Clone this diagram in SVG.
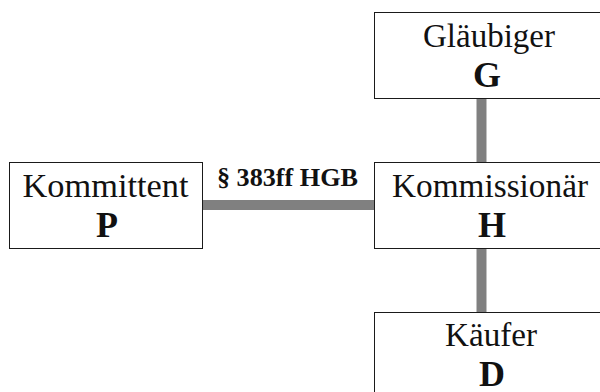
<svg xmlns="http://www.w3.org/2000/svg" width="600" height="392" viewBox="0 0 600 392">
<style>
.box{fill:#fff;stroke:#1a1a1a;stroke-width:1}
.name{font-family:'Liberation Serif','DejaVu Serif','Times New Roman',serif;font-size:33px;fill:#111;text-anchor:middle}
.sym{font-family:'Liberation Serif','DejaVu Serif','Times New Roman',serif;font-size:36px;font-weight:bold;fill:#111;text-anchor:middle}
.lbl{font-family:'Liberation Serif','DejaVu Serif','Times New Roman',serif;font-size:26px;font-weight:bold;fill:#111;text-anchor:middle}
.conn{stroke:#808080;stroke-width:10;fill:none}
</style>
<rect width="600" height="392" fill="#fff"/>
<g id="connectors">
<line class="conn" x1="202" y1="205" x2="374" y2="205"/>
<line class="conn" x1="481.5" y1="98" x2="481.5" y2="163"/>
<line class="conn" x1="481.5" y1="248" x2="481.5" y2="313"/>
<text class="lbl" x="287.5" y="186" textLength="141" lengthAdjust="spacingAndGlyphs">§ 383ff HGB</text>
</g>
<g id="kommittent">
<rect class="box" x="9.5" y="162.5" width="193" height="86"/>
<text class="name" x="105.5" y="197" textLength="166" lengthAdjust="spacingAndGlyphs">Kommittent</text>
<text class="sym" x="107" y="237">P</text>
</g>
<g id="glaeubiger">
<rect class="box" x="374.5" y="12.5" width="240" height="86"/>
<text class="name" x="489" y="47" textLength="132" lengthAdjust="spacingAndGlyphs">Gläubiger</text>
<text class="sym" x="487" y="87">G</text>
</g>
<g id="kommissionaer">
<rect class="box" x="374.5" y="162.5" width="240" height="86"/>
<text class="name" x="490" y="197" textLength="196" lengthAdjust="spacingAndGlyphs">Kommissionär</text>
<text class="sym" x="492" y="237">H</text>
</g>
<g id="kaeufer">
<rect class="box" x="374.5" y="312.5" width="240" height="100"/>
<text class="name" x="491" y="346" textLength="92" lengthAdjust="spacingAndGlyphs">Käufer</text>
<text class="sym" x="492" y="386">D</text>
</g>
</svg>
